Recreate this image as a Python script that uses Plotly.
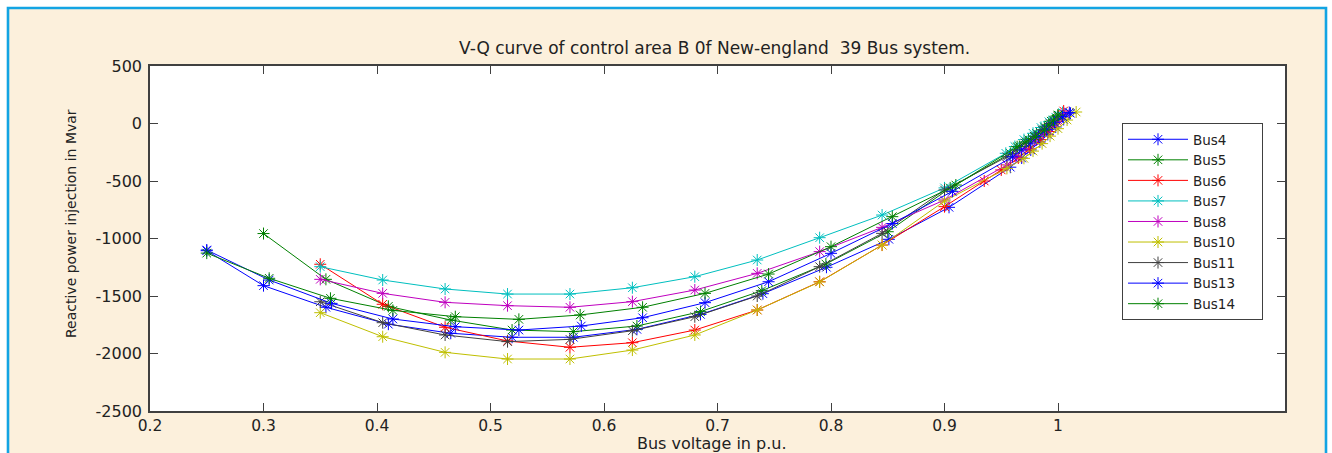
import plotly.graph_objects as go

# ---------------- data ----------------
bus_names = ["Bus4", "Bus5", "Bus6", "Bus7", "Bus8", "Bus10", "Bus11", "Bus13", "Bus14"]

bus4_v = [0.25, 0.30, 0.355, 0.41, 0.465, 0.519, 0.573, 0.629, 0.685, 0.74, 0.796, 0.851, 0.904, 0.958, 0.968, 0.976, 0.984, 0.991, 0.998, 1.005, 1.011]
bus4_q = [-1106, -1410, -1598, -1745, -1824, -1859, -1859, -1790, -1660, -1480, -1250, -1007, -729, -380, -300, -230, -160, -95, -30, 35, 89]

bus5_v = [0.30, 0.355, 0.41, 0.465, 0.519, 0.573, 0.629, 0.685, 0.739, 0.7955, 0.85, 0.905, 0.958, 0.966, 0.974, 0.981, 0.988, 0.994, 1.0]
bus5_q = [-957, -1355, -1590, -1709, -1796, -1810, -1761, -1636, -1454, -1222, -941, -560, -260, -200, -140, -85, -30, 20, 70]

bus6_v = [0.35, 0.405, 0.46, 0.515, 0.57, 0.625, 0.68, 0.735, 0.79, 0.845, 0.9, 0.935, 0.95, 0.965, 0.975, 0.985, 0.992, 0.999, 1.005]
bus6_q = [-1224, -1572, -1772, -1891, -1946, -1906, -1796, -1622, -1376, -1057, -723, -500, -404, -300, -220, -140, -70, 20, 109]

bus7_v = [0.35, 0.405, 0.46, 0.515, 0.57, 0.625, 0.68, 0.735, 0.79, 0.845, 0.9, 0.954, 0.962, 0.97, 0.978, 0.985, 0.992, 0.998, 1.004]
bus7_q = [-1245, -1361, -1439, -1483, -1483, -1428, -1332, -1187, -993, -796, -560, -259, -200, -140, -85, -35, 15, 55, 95]

bus8_v = [0.35, 0.405, 0.46, 0.515, 0.57, 0.625, 0.68, 0.735, 0.79, 0.845, 0.9, 0.955, 0.963, 0.971, 0.979, 0.987, 0.994, 1.0, 1.006]
bus8_q = [-1355, -1477, -1555, -1584, -1598, -1549, -1448, -1303, -1114, -903, -665, -360, -290, -220, -150, -85, -25, 30, 85]

bus10_v = [0.35, 0.405, 0.46, 0.515, 0.57, 0.625, 0.68, 0.735, 0.79, 0.845, 0.9, 0.955, 0.97, 0.978, 0.986, 0.993, 1.0, 1.008, 1.016]
bus10_q = [-1645, -1854, -1990, -2048, -2048, -1970, -1839, -1622, -1378, -1057, -674, -390, -303, -240, -175, -110, -45, 30, 100]

bus11_v = [0.35, 0.405, 0.46, 0.515, 0.57, 0.625, 0.68, 0.735, 0.79, 0.845, 0.9, 0.955, 0.963, 0.971, 0.979, 0.986, 0.993, 1.0]
bus11_q = [-1550, -1732, -1839, -1897, -1877, -1802, -1680, -1500, -1245, -955, -578, -289, -230, -170, -110, -55, 0, 60]

bus13_v = [0.25, 0.305, 0.36, 0.414, 0.469, 0.525, 0.58, 0.634, 0.689, 0.745, 0.8, 0.854, 0.907, 0.96, 0.968, 0.976, 0.983, 0.99, 0.997, 1.004, 1.01]
bus13_q = [-1100, -1361, -1564, -1700, -1767, -1796, -1761, -1689, -1558, -1376, -1129, -870, -590, -290, -230, -170, -110, -50, 10, 60, 95]

bus14_v = [0.25, 0.305, 0.359, 0.414, 0.469, 0.525, 0.579, 0.634, 0.689, 0.745, 0.8, 0.854, 0.91, 0.964, 0.972, 0.98, 0.988, 0.992, 0.996, 1.0]
bus14_q = [-1127, -1346, -1520, -1625, -1680, -1703, -1665, -1598, -1477, -1309, -1071, -810, -535, -202, -160, -115, -57, -13, 30, 74]

x_ticks = [0.2, 0.3, 0.4, 0.5, 0.6, 0.7, 0.8, 0.9, 1.0]
x_tick_labels = ["0.2", "0.3", "0.4", "0.5", "0.6", "0.7", "0.8", "0.9", "1"]
y_ticks = [-2500, -2000, -1500, -1000, -500, 0, 500]
y_tick_labels = ["-2500", "-2000", "-1500", "-1000", "-500", "0", "500"]

# ---------------- styling ----------------
colors = ["#0000FF", "#008000", "#FF0000", "#00BFBF", "#BF00BF", "#BFBF00", "#404040", "#0000FF", "#008000"]
series = [(bus4_v, bus4_q), (bus5_v, bus5_q), (bus6_v, bus6_q), (bus7_v, bus7_q), (bus8_v, bus8_q),
          (bus10_v, bus10_q), (bus11_v, bus11_q), (bus13_v, bus13_q), (bus14_v, bus14_q)]

W, H = 1332, 453
L, R, T, B = 150, 47, 66, 42
PW, PH = W - L - R, H - T - B


def px_x(px):
    return (px - L) / PW


def px_y(py):
    return (H - B - py) / PH


FONT = "DejaVu Sans"
BEIGE = "#FCF0DC"
BORDER = "#12A4E3"
AXC = "#404040"
PAD = "\u00a0" * 5  # widens the legend box to the reference's size

fig = go.Figure()
for name, (v, q), c in zip(bus_names, series, colors):
    fig.add_trace(go.Scatter(
        x=v, y=q, mode="lines+markers", name=name + PAD,
        line=dict(color=c, width=1),
        marker=dict(symbol="asterisk-open", size=10, color=c, line=dict(width=1, color=c)),
    ))

axis_common = dict(showgrid=False, zeroline=False, showline=True, linecolor=AXC, linewidth=1.5,
                   ticks="inside", ticklen=8, tickwidth=1, tickcolor=AXC, mirror="ticks")

fig.update_xaxes(range=[0.2, 1.2], tickvals=x_ticks, ticktext=x_tick_labels,
                 ticklabelstandoff=0, tickfont=dict(family=FONT, size=15.5, color="#222222"),
                 **axis_common)
fig.update_yaxes(range=[-2500, 500], tickvals=y_ticks, ticktext=y_tick_labels,
                 ticklabelstandoff=3, tickfont=dict(family=FONT, size=16, color="#222222"),
                 **axis_common)

shapes = [
    # white strips outside the blue frame
    dict(type="rect", xref="paper", yref="paper", x0=px_x(-5), x1=px_x(7), y0=px_y(H + 10), y1=px_y(-10),
         fillcolor="white", line=dict(width=0), layer="above"),
    dict(type="rect", xref="paper", yref="paper", x0=px_x(-5), x1=px_x(W + 5), y0=px_y(7), y1=px_y(-10),
         fillcolor="white", line=dict(width=0), layer="above"),
    dict(type="rect", xref="paper", yref="paper", x0=px_x(1327), x1=px_x(W + 5), y0=px_y(H + 10), y1=px_y(-10),
         fillcolor="white", line=dict(width=0), layer="above"),
    # blue frame
    dict(type="rect", xref="paper", yref="paper", x0=px_x(8), x1=px_x(1326), y0=px_y(H + 20), y1=px_y(8),
         fillcolor="rgba(0,0,0,0)", line=dict(color=BORDER, width=2.6), layer="above"),
]

annotations = [
    dict(text="V-Q curve of control area B 0f New-england\u00a0 39 Bus system.", xref="paper", yref="paper",
         x=px_x(714), y=px_y(48), xanchor="center", yanchor="middle", showarrow=False,
         font=dict(family=FONT, size=17, color="#222222")),
    dict(text="Bus voltage in p.u.", xref="paper", yref="paper",
         x=px_x(712), y=px_y(443), xanchor="center", yanchor="middle", showarrow=False,
         font=dict(family=FONT, size=16, color="#222222")),
    dict(text="Reactive power injection in Mvar", xref="paper", yref="paper",
         x=px_x(71), y=px_y(224), xanchor="center", yanchor="middle", showarrow=False, textangle=-90,
         font=dict(family=FONT, size=14, color="#222222")),
]

fig.update_layout(
    width=W, height=H,
    margin=dict(l=L, r=R, t=T, b=B, pad=0),
    paper_bgcolor=BEIGE, plot_bgcolor="white",
    shapes=shapes, annotations=annotations,
    showlegend=True,
    legend=dict(x=px_x(1122), y=px_y(123), xanchor="left", yanchor="top",
                bgcolor="white", bordercolor=AXC, borderwidth=1,
                font=dict(family=FONT, size=13.5, color="#222222"),
                itemwidth=60, tracegroupgap=0),
)

fig.write_html("out.html", config={"displayModeBar": False},
               post_script="document.body.style.margin='0';document.body.style.overflow='hidden';")
